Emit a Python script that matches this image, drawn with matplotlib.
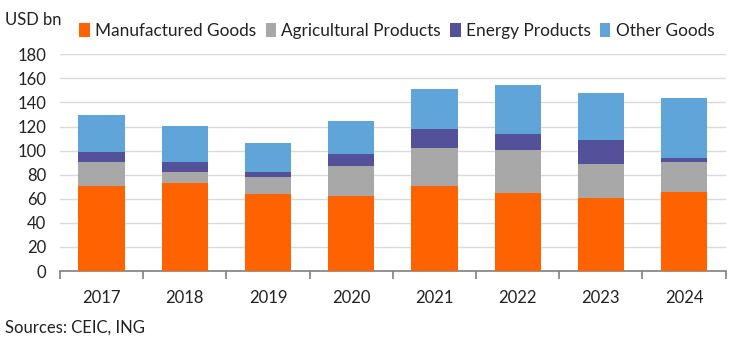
import matplotlib
matplotlib.use("Agg")
import matplotlib.pyplot as plt
import numpy as np

years = ["2017", "2018", "2019", "2020", "2021", "2022", "2023", "2024"]
manufactured = [70.9, 73.1, 64.0, 62.3, 70.9, 64.8, 60.6, 65.6]
agricultural = [19.7, 9.1, 14.1, 24.9, 31.3, 35.7, 28.3, 25.0]
energy = [8.3, 8.4, 4.1, 10.0, 15.8, 13.3, 19.9, 3.3]
other = [30.7, 29.9, 24.1, 27.4, 33.2, 40.7, 39.1, 49.8]
series_names = ["Manufactured Goods", "Agricultural Products", "Energy Products", "Other Goods"]
colors = ["#FF6200", "#A8A8A8", "#525199", "#5FA5D9"]

plt.rcParams['font.family'] = ['Lato', 'DejaVu Sans']
fig = plt.figure(figsize=(7.48, 3.47), dpi=100)
ax = fig.add_axes([60/748, 1-271/347, (725.7-60)/748, (271-54.3)/347])

x = np.arange(len(years))
bottom = np.zeros(len(years))
handles = []
for name, vals, c in zip(series_names, [manufactured, agricultural, energy, other], colors):
    h = ax.bar(x, vals, width=0.556, bottom=bottom, color=c, label=name, zorder=3)
    handles.append(h)
    bottom += np.array(vals)

ax.set_xlim(-0.5, len(years)-0.5)
ax.set_ylim(0, 180)
ax.set_yticks(range(0, 181, 20))
ax.yaxis.grid(True, color="#D9D9D9", linewidth=1, zorder=0)
ax.set_axisbelow(True)
for s in ["top", "right", "left"]:
    ax.spines[s].set_visible(False)
ax.spines["bottom"].set_color("#808080")
ax.spines["bottom"].set_linewidth(1.2)
ax.tick_params(axis="y", length=0, labelsize=12, colors="#222222", pad=10)
ax.set_xticks(x)
ax.set_xticklabels(years, fontsize=12, color="#222222")
ax.set_xticks(np.arange(-0.5, len(years), 1), minor=True)
ax.tick_params(axis="x", which="major", length=0, pad=14)
ax.tick_params(axis="x", which="minor", length=6, color="#808080", width=1.2)

fig.text(5/748, 1-20/347, "USD bn", fontsize=12, color="#222222", va="center", ha="left")
fig.legend(handles=handles, labels=series_names, loc="center left",
           bbox_to_anchor=(64/748, 1-31/347), ncol=4, frameon=False, fontsize=12.4,
           handlelength=0.6, handleheight=0.9, handletextpad=0.3, columnspacing=0.55,
           labelcolor="#222222")
fig.text(5/748, 1-328/347, "Sources: CEIC, ING", fontsize=12, color="#222222", va="center", ha="left")

fig.savefig("out.png", dpi=100)
